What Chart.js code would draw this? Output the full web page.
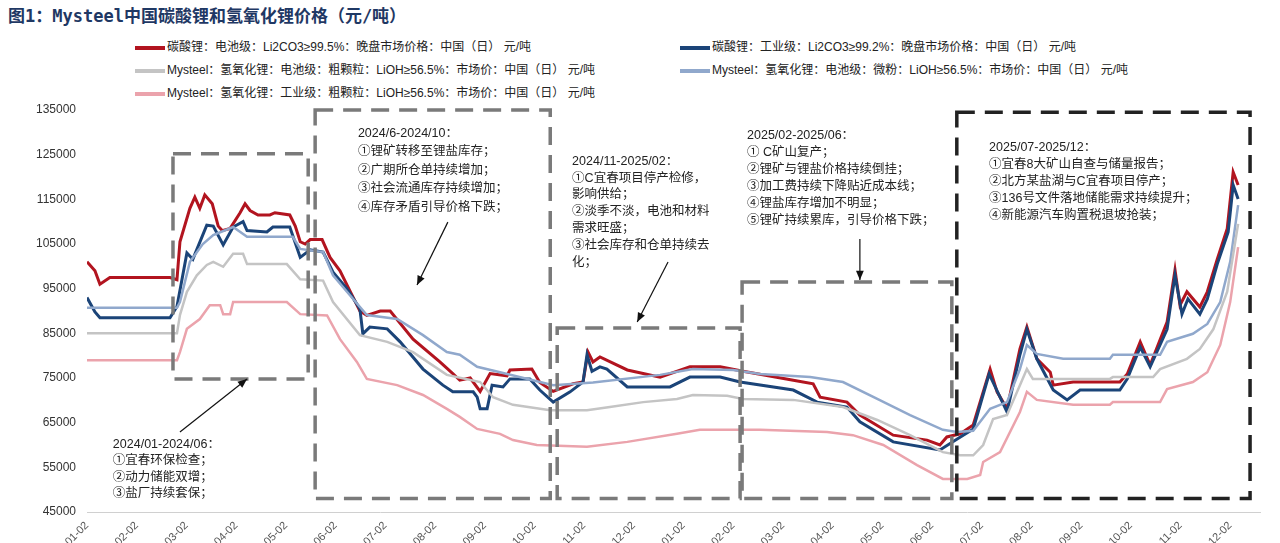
<!DOCTYPE html>
<html>
<head>
<meta charset="utf-8">
<script src="https://cdn.jsdelivr.net/npm/chart.js@4"></script>
<style>
  body { margin: 0; width: 1280px; height: 543px; overflow: hidden; background: #fff;
         font-family: "Liberation Sans", "Noto Sans CJK SC", sans-serif; }
  .title { position: absolute; left: 8px; top: 2px; font-size: 17px; font-weight: bold; color: #1F3864;
           font-family: "DejaVu Sans Mono", "Noto Sans CJK SC", monospace; }
  .legend { position: absolute; top: 36px; font-size: 12px; color: #222; }
  .legend div { height: 23px; line-height: 23px; white-space: nowrap; }
  .legend span { display: inline-block; width: 30px; height: 4px; vertical-align: middle; margin-right: 2px; }
  .wrap { position: absolute; left: 0; top: 0; width: 1280px; height: 582px; }
</style>
</head>
<body>
<div class="title">图1：Mysteel中国碳酸锂和氢氧化锂价格（元/吨）</div>
<div class="legend" id="legL" style="left:135px"></div>
<div class="legend" id="legR" style="left:680px"></div>
<div class="wrap"><canvas id="chart"></canvas></div>
<script>
// x = months since 2024-01-02
var monthLabels = ['2024-01-02','2024-02-02','2024-03-02','2024-04-02','2024-05-02','2024-06-02',
  '2024-07-02','2024-08-02','2024-09-02','2024-10-02','2024-11-02','2024-12-02',
  '2025-01-02','2025-02-02','2025-03-02','2025-04-02','2025-05-02','2025-06-02',
  '2025-07-02','2025-08-02','2025-09-02','2025-10-02','2025-11-02','2025-12-02'];

var redX = [0,0.16,0.26,0.46,1.67,1.81,1.87,2.07,2.17,2.27,2.37,2.52,2.64,2.72,2.88,3.08,3.18,3.28,3.44,3.68,3.78,4.08,4.19,4.29,4.39,4.49,4.73,4.89,5.09,5.29,5.49,5.63,5.90,6.10,6.56,7.10,7.36,7.50,7.71,7.91,8.11,8.45,8.51,8.95,9.11,9.38,9.78,9.98,10.08,10.18,10.32,10.87,11.53,12.13,12.74,13.20,14.21,14.61,14.75,15.29,15.55,16.22,16.90,17.16,17.30,17.57,17.83,18.17,18.31,18.51,18.77,18.91,19.11,19.38,19.44,19.84,20.78,20.93,21.19,21.39,21.73,21.89,21.99,22.13,22.39,22.54,22.74,22.94,23.06,23.16];
var redY = [101000,99000,96000,97500,97500,97000,105500,113000,115500,113000,116000,114000,109000,108000,108500,112000,114000,112500,111500,111500,112000,111500,109000,105500,105000,106000,106000,102000,99000,94500,90000,89000,90000,90000,83700,78600,76000,74500,75000,72000,76000,75500,76800,77000,74000,72000,73700,74100,80800,78600,79700,76800,75200,77500,77500,76500,74500,73700,70700,69600,66700,62200,61100,60000,61800,62500,64500,77000,71900,68100,81500,86400,79300,76300,73400,74100,74100,75900,83100,77900,87500,99200,91300,94300,90900,94300,101600,108400,121100,118200];

var blueX = [0,0.16,0.26,1.67,1.81,2.01,2.13,2.41,2.54,2.74,2.94,3.14,3.22,3.62,3.74,4.08,4.29,4.49,4.75,4.95,5.23,5.49,5.55,5.69,6.04,6.30,6.76,7.16,7.36,7.77,7.85,7.91,8.05,8.15,8.37,8.51,8.91,9.11,9.38,9.72,9.98,10.06,10.16,10.32,10.46,10.87,11.73,12.13,12.74,13.14,14.21,14.69,15.29,15.55,16.22,17.16,17.50,17.83,18.15,18.51,18.77,18.91,19.11,19.44,19.72,19.98,20.78,20.93,21.19,21.39,21.73,21.89,22.03,22.15,22.39,22.54,22.74,22.96,23.06,23.16];
var blueY = [93000,89800,88500,88500,91000,103000,101600,109200,109000,104800,108800,110000,108000,107700,108800,108800,102000,103700,103200,98700,95000,90500,84900,86400,86000,83100,77000,73400,71900,71900,70700,68100,68100,73400,73000,74800,74800,72300,69600,71900,74100,80200,76500,77500,77000,73000,73000,75200,75200,74100,72300,69600,68500,65200,60700,58900,61300,63600,75900,67400,80200,85900,79300,72300,70100,72300,72300,74800,81900,77500,85900,98000,89300,92700,89300,92700,100500,107700,118200,115100];

var lbX = [0,1.81,1.87,2.07,2.33,2.54,2.94,3.22,4.14,4.29,4.75,4.95,5.23,5.63,6.24,6.76,7.24,7.50,7.85,8.31,9.38,10.18,11.53,12.19,13.00,13.54,14.55,15.21,15.90,16.56,17.22,17.50,17.83,18.17,18.51,18.77,18.91,19.11,19.64,20.58,20.64,21.59,21.73,22.25,22.54,22.80,23.00,23.16];
var lbY = [90700,90700,92000,101000,105000,107000,108800,106600,106600,103900,103200,98000,94300,89100,88200,84600,80800,80200,77500,76300,73400,74000,75700,77000,76800,75900,75200,74100,70300,66700,63400,62900,63200,68100,69600,77000,82400,80400,79300,79300,80200,80200,83100,84900,87100,92000,101000,113700];

var grayX = [0,1.81,1.87,2.01,2.21,2.41,2.54,2.74,2.94,3.14,3.22,4.02,4.29,4.75,4.95,5.49,6.04,6.56,7.24,7.91,8.17,8.57,9.32,10.06,10.52,11.19,11.87,12.19,12.88,13.20,14.21,15.21,15.90,16.56,17.22,17.57,17.83,18.03,18.23,18.51,18.77,18.91,19.03,20.58,20.64,21.45,21.59,22.13,22.39,22.66,22.94,23.16];
var grayY = [85000,85000,89100,94300,98000,100300,101000,99900,102800,102800,100500,100500,97100,96800,92000,84600,83100,80800,75700,74100,70700,69000,67800,67800,68500,69600,70300,71200,71000,70300,70100,68500,65600,62200,58400,57700,57700,60000,65800,66700,73400,77000,74800,74800,75200,75200,77000,79300,81500,85900,94300,109500];

var pinkX = [0,1.81,1.87,2.01,2.27,2.47,2.68,2.74,2.88,2.94,4.02,4.29,4.83,5.09,5.43,5.63,6.24,6.76,7.24,7.50,7.85,8.31,8.57,9.05,10.06,10.87,11.87,12.33,13.54,14.89,15.41,16.02,16.70,17.22,17.71,17.97,18.03,18.37,18.77,18.91,19.11,19.84,20.58,20.64,21.59,21.73,22.25,22.54,22.80,23.00,23.16];
var pinkY = [79000,79000,80800,86000,88200,91300,91300,89300,89300,92000,92000,89300,89000,83700,78600,74800,73400,71200,68100,66300,63600,62500,61100,60000,59600,60700,62500,63400,63400,62900,62200,60000,55500,52400,52400,53300,56200,58400,67400,71900,70100,69000,69000,69600,69600,72500,74100,76300,82400,92000,104300];

var seriesNames = [
  '碳酸锂：电池级：Li2CO3≥99.5%：晚盘市场价格：中国（日） 元/吨',
  '碳酸锂：工业级：Li2CO3≥99.2%：晚盘市场价格：中国（日） 元/吨',
  'Mysteel：氢氧化锂：电池级：粗颗粒：LiOH≥56.5%：市场价：中国（日） 元/吨',
  'Mysteel：氢氧化锂：电池级：微粉：LiOH≥56.5%：市场价：中国（日） 元/吨',
  'Mysteel：氢氧化锂：工业级：粗颗粒：LiOH≥56.5%：市场价：中国（日） 元/吨'
];
var seriesColors = ['#B2141F', '#1B4478', '#C4C4C4', '#90A8CC', '#EBA3AC'];

// annotation boxes: [fromMonth, toMonth, topValue, bottomValue, colour]
var boxes = [
  [1.73, 4.45, 125200, 74800, '#7a7a7a'],
  [4.59, 9.32, 135000, 48000, '#7a7a7a'],
  [9.46, 13.14, 86200, 48000, '#7a7a7a'],
  [13.18, 17.40, 96500, 48000, '#7a7a7a'],
  [17.50, 23.40, 134500, 48000, '#222222']
];
var notes = [
  [0.52, 59770, ['2024/01-2024/06：','①宜春环保检查；','②动力储能双增；','③盐厂持续套保；'], 16.5],
  [5.45, 129400, ['2024/6-2024/10：','①锂矿转移至锂盐库存；','②广期所仓单持续增加；','③社会流通库存持续增加；','④库存矛盾引导价格下跌；'], 18.5],
  [9.76, 123130, ['2024/11-2025/02：','①C宜春项目停产检修，','影响供给；','②淡季不淡，电池和材料','需求旺盛；','③社会库存和仓单持续去','化；'], 16.8],
  [13.28, 128950, ['2025/02-2025/06：','① C矿山复产；','②锂矿与锂盐价格持续倒挂；','③加工费持续下降贴近成本线；','④锂盐库存增加不明显；','⑤锂矿持续累库，引导价格下跌；'], 17],
  [18.15, 126270, ['2025/07-2025/12：','①宜春8大矿山自查与储量报告；','②北方某盐湖与C宜春项目停产；','③136号文件落地储能需求持续提升；','④新能源汽车购置税退坡抢装；'], 17]
];
// arrows: [fromMonth, fromValue, toMonth, toValue]
var arrows = [
  [1.87, 62900, 3.22, 74770],
  [7.26, 109900, 6.64, 95820],
  [11.69, 100970, 11.07, 87530],
  [15.55, 106120, 15.55, 96940]
];

function pts(xs, ys) {
  return xs.map(function(x, i) { return {x: x, y: ys[i]}; });
}

var seriesData = [pts(redX, redY), pts(blueX, blueY), pts(grayX, grayY), pts(lbX, lbY), pts(pinkX, pinkY)];
var drawOrder = [4, 2, 3, 1, 0];

var datasets = drawOrder.map(function(i) {
  return {
    label: seriesNames[i],
    data: seriesData[i],
    borderColor: seriesColors[i],
    borderWidth: (i < 2) ? 3 : 2.5,
    pointRadius: 0,
    fill: false,
    tension: 0
  };
});

// html legend
[[0, 2, 4], [1, 3]].forEach(function(col, c) {
  var el = document.getElementById(c === 0 ? 'legL' : 'legR');
  col.forEach(function(i) {
    var d = document.createElement('div');
    d.innerHTML = '<span style="background:' + seriesColors[i] + '"></span>' + seriesNames[i];
    el.appendChild(d);
  });
});

var notesPlugin = {
  id: 'notes',
  afterDatasetsDraw: function(chart) {
    var ctx = chart.ctx, xs = chart.scales.x, ys = chart.scales.y;
    ctx.save();
    ctx.lineWidth = 3.5;
    ctx.setLineDash([18, 10]);
    boxes.forEach(function(b) {
      ctx.strokeStyle = b[4];
      var x1 = xs.getPixelForValue(b[0]), x2 = xs.getPixelForValue(b[1]);
      var y1 = ys.getPixelForValue(b[2]), y2 = ys.getPixelForValue(b[3]);
      ctx.strokeRect(x1, y1, x2 - x1, y2 - y1);
    });
    ctx.setLineDash([]);
    ctx.fillStyle = '#222';
    ctx.font = '12.5px "Liberation Sans", "Noto Sans CJK SC"';
    ctx.textBaseline = 'top';
    notes.forEach(function(n) {
      var x = xs.getPixelForValue(n[0]), y = ys.getPixelForValue(n[1]) - 8;
      n[2].forEach(function(line, k) { ctx.fillText(line, x, y + k * n[3]); });
    });
    ctx.strokeStyle = '#111';
    ctx.fillStyle = '#111';
    ctx.lineWidth = 1.2;
    arrows.forEach(function(a) {
      var x1 = xs.getPixelForValue(a[0]), y1 = ys.getPixelForValue(a[1]);
      var x2 = xs.getPixelForValue(a[2]), y2 = ys.getPixelForValue(a[3]);
      var ang = Math.atan2(y2 - y1, x2 - x1);
      ctx.beginPath(); ctx.moveTo(x1, y1); ctx.lineTo(x2, y2); ctx.stroke();
      ctx.beginPath();
      ctx.moveTo(x2, y2);
      ctx.lineTo(x2 - 10 * Math.cos(ang - 0.4), y2 - 10 * Math.sin(ang - 0.4));
      ctx.lineTo(x2 - 10 * Math.cos(ang + 0.4), y2 - 10 * Math.sin(ang + 0.4));
      ctx.closePath(); ctx.fill();
    });
    ctx.restore();
  }
};

new Chart(document.getElementById('chart').getContext('2d'), {
  type: 'line',
  data: { datasets: datasets },
  options: {
    responsive: true,
    maintainAspectRatio: false,
    animation: false,
    layout: { padding: { top: 110, right: 20, left: 0, bottom: 0 } },
    plugins: { legend: { display: false }, tooltip: { enabled: false } },
    scales: {
      x: {
        type: 'linear', min: 0, max: 23.6,
        grid: { display: false, drawTicks: true, tickLength: 4, color: '#d0d0d0' },
        border: { color: '#d0d0d0' },
        ticks: {
          stepSize: 1, maxRotation: 45, minRotation: 45, color: '#555',
          font: { size: 11, family: 'Liberation Sans' },
          callback: function(v) { return monthLabels[v] || ''; }
        },
        afterFit: function(s) { s.height = 70; }
      },
      y: {
        min: 45000, max: 135000,
        grid: { display: false },
        border: { display: false },
        ticks: { stepSize: 10000, color: '#333', font: { size: 12, family: 'Liberation Sans' },
                 callback: function(v) { return String(v); } },
        afterFit: function(s) { s.width = 87; }
      }
    }
  },
  plugins: [notesPlugin]
});
</script>
</body>
</html>
